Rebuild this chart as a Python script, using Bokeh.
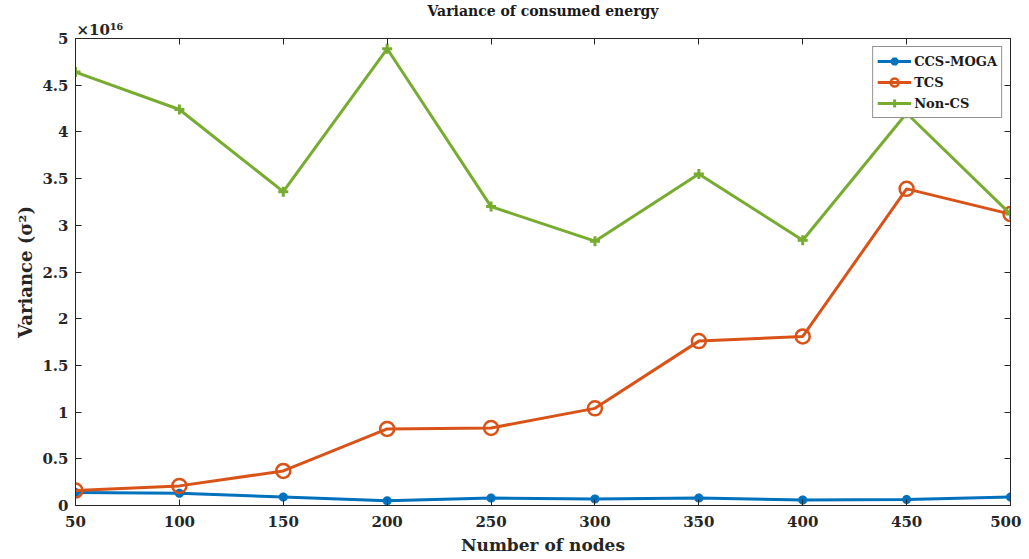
from bokeh.plotting import figure
from bokeh.models import (Range1d, LinearAxis, FixedTicker, Legend, LegendItem, Title)
from bokeh.embed import file_html
from bokeh.resources import INLINE

nodes = [50, 100, 150, 200, 250, 300, 350, 400, 450, 500]
ccs_moga = [0.14, 0.13, 0.09, 0.05, 0.08, 0.07, 0.08, 0.06, 0.065, 0.09]
tcs = [0.16, 0.21, 0.37, 0.82, 0.83, 1.04, 1.76, 1.81, 3.39, 3.12]
non_cs = [4.64, 4.24, 3.36, 4.89, 3.20, 2.83, 3.55, 2.84, 4.20, 3.12]
x_ticks = [50, 100, 150, 200, 250, 300, 350, 400, 450, 500]
y_ticks = [0, 0.5, 1, 1.5, 2, 2.5, 3, 3.5, 4, 4.5, 5]
y_tick_labels = ["0", "0.5", "1", "1.5", "2", "2.5", "3", "3.5", "4", "4.5", "5"]

FONT = "DejaVu Serif"
C1, C2, C3 = "#0072BD", "#D95319", "#77AC30"

p = figure(width=1021, height=559, output_backend="svg", toolbar_location=None,
           x_range=Range1d(50, 500), y_range=Range1d(0, 5),
           min_border_left=75, min_border_right=11, min_border_top=37, min_border_bottom=54)
p.background_fill_color = "white"
p.border_fill_color = "white"
p.outline_line_color = "#262626"
p.outline_line_width = 1
p.xgrid.visible = False
p.ygrid.visible = False

p.title.text = "Variance of consumed energy"
p.title.align = "center"
p.title.text_font = FONT
p.title.text_font_size = "14px"
p.title.text_font_style = "bold"
p.title.text_color = "#1a1a1a"
p.title.offset = 0
p.title.standoff = 0
p.title.vertical_align = "bottom"

def style_axis(ax, show_labels=True, ticks=None):
    ax.major_tick_in = 6
    ax.major_tick_out = 0
    ax.minor_tick_line_color = None
    ax.axis_line_color = "#262626"
    ax.major_tick_line_color = "#262626"
    ax.major_label_text_font = FONT
    ax.major_label_text_font_style = "bold"
    ax.major_label_text_font_size = "15px"
    ax.major_label_text_color = "#262626"
    ax.axis_label_text_font = FONT
    ax.axis_label_text_font_style = "bold"
    ax.axis_label_text_font_size = "17px"
    ax.axis_label_text_color = "#262626"
    if not show_labels:
        ax.major_label_overrides = {t: "" for t in ticks}
        ax.major_label_text_font_size = "1px"
        ax.major_label_standoff = 0
        ax.axis_label_standoff = 0

xa = p.xaxis[0]
xa.ticker = FixedTicker(ticks=x_ticks)
xa.axis_label = "Number of nodes"
style_axis(xa)
xa.axis_label_standoff = 5
xa.major_label_standoff = 10

ya = p.yaxis[0]
ya.ticker = FixedTicker(ticks=y_ticks)
ya.major_label_overrides = {t: s for t, s in zip(y_ticks, y_tick_labels)}
ya.axis_label = "Variance (σ²)"
style_axis(ya)
ya.axis_label_text_font_size = "18px"
ya.axis_label_standoff = 3
ya.major_label_standoff = 7

top = LinearAxis(ticker=FixedTicker(ticks=x_ticks))
style_axis(top, False, x_ticks)
p.add_layout(top, "above")
right = LinearAxis(ticker=FixedTicker(ticks=y_ticks))
style_axis(right, False, y_ticks)
p.add_layout(right, "right")

scale = Title(text="×10¹⁶", align="left", offset=1, standoff=0,
              text_font=FONT, text_font_size="15px", text_font_style="bold",
              text_color="#262626", vertical_align="bottom")
p.add_layout(scale, "above")

l1 = p.line(nodes, ccs_moga, line_color=C1, line_width=3)
m1 = p.scatter(nodes, ccs_moga, marker="asterisk", size=9, line_color=C1, line_width=3)
l2 = p.line(nodes, tcs, line_color=C2, line_width=3)
m2 = p.scatter(nodes, tcs, marker="circle", size=14, line_color=C2, fill_color=None, line_width=2.5)
l3 = p.line(nodes, non_cs, line_color=C3, line_width=3)
m3 = p.scatter(nodes, non_cs, marker="cross", size=10, line_color=C3, line_width=3)

legend = Legend(items=[LegendItem(label="CCS-MOGA", renderers=[l1, m1]),
                       LegendItem(label="TCS", renderers=[l2, m2]),
                       LegendItem(label="Non-CS", renderers=[l3, m3])],
                location="top_right")
legend.label_text_font = FONT
legend.label_text_font_style = "bold"
legend.label_text_font_size = "13px"
legend.label_text_color = "#1a1a1a"
legend.border_line_color = "#262626"
legend.border_line_width = 1
legend.glyph_width = 34
legend.glyph_height = 20
legend.label_height = 20
legend.spacing = 1
legend.padding = 4
legend.margin = 8
legend.label_standoff = 3
p.add_layout(legend)

open("out.html", "w").write(file_html(p, INLINE))
